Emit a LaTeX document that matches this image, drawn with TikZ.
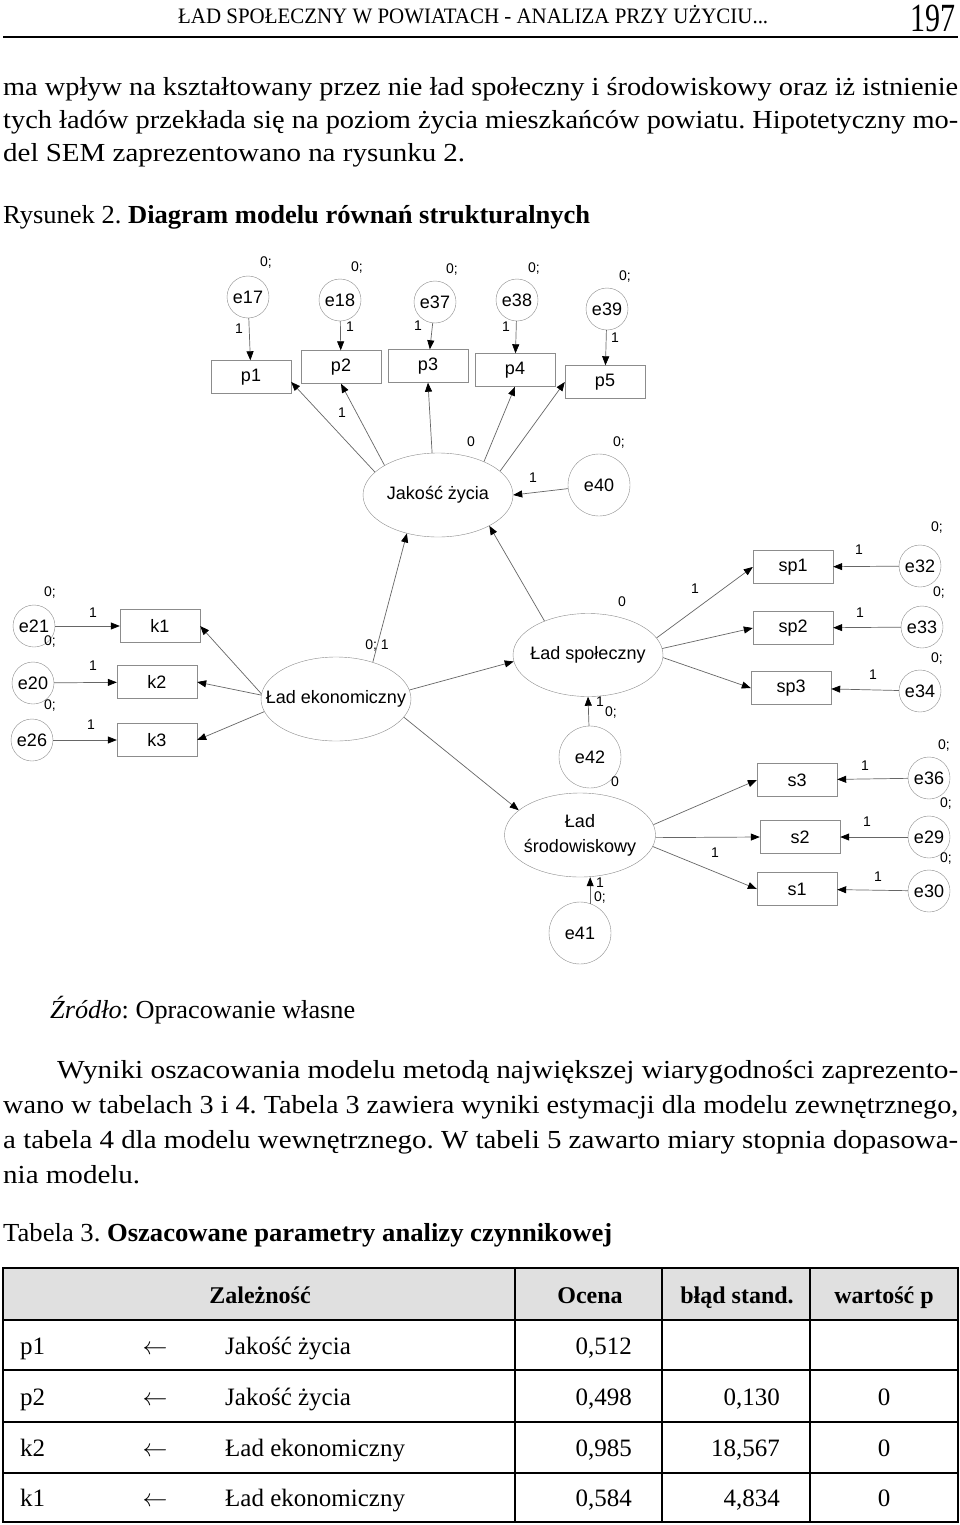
\documentclass[tikz,border=0pt]{standalone}
\usepackage{graphicx}
\usepackage{fontspec}
\setmainfont{Liberation Serif}
\newfontfamily\diagfont{Liberation Sans}
\usetikzlibrary{shapes.geometric,arrows.meta,calc}
\newcommand{\fitline}[2]{\resizebox{#1}{\height}{#2}}
\frenchspacing
\begin{document}
\begin{tikzpicture}[x=1pt,y=-1pt,
 obs/.style={draw=black!45, rectangle, minimum width=80pt, minimum height=33pt, inner sep=0pt, font=\diagfont\fontsize{18}{20}\selectfont},
 err/.style={draw=black!45, circle, minimum size=42pt, inner sep=0pt, font=\diagfont\fontsize{18}{20}\selectfont},
 bigerr/.style={err, minimum size=62pt},
 lat/.style={draw=black!45, ellipse, minimum width=150pt, minimum height=84pt, inner sep=0pt},
 lattext/.style={inner sep=0pt, align=center, font=\diagfont\fontsize{18}{25}\selectfont},
 lab/.style={font=\diagfont\fontsize{14}{16}\selectfont, inner sep=0pt},
 arr/.style={draw=black!60, line width=0.7pt, -{Triangle[length=9pt,width=7pt,color=black]}},
 body/.style={anchor=base west, inner sep=0pt, font=\fontsize{26}{30}\selectfont},
 tab/.style={inner sep=0pt, font=\fontsize{25}{28}\selectfont},
 tabh/.style={inner sep=0pt, anchor=base, font=\bfseries\fontsize{24}{28}\selectfont},
]
\useasboundingbox (0,0) rectangle (960,1525);
\fill[white] (0,0) rectangle (960,1525);

% ---------- page header and text ----------
\node[anchor=base west, inner sep=0pt, font=\fontsize{22}{24}\selectfont] (hdr) at (178,24) {\fitline{590pt}{ŁAD SPOŁECZNY W POWIATACH - ANALIZA PRZY UŻYCIU...}};
\node[anchor=base west, inner sep=0pt, font=\fontsize{40}{44}\selectfont] (pg) at (910,32) {\fitline{45pt}{197}};
\draw[line width=2pt] (3,37) -- (958,37);

\node[body] (t1) at (3,96) {\fitline{955pt}{ma wpływ na kształtowany przez nie ład społeczny i środowiskowy oraz iż istnienie}};
\node[body] (t2) at (3,129) {\fitline{955pt}{tych ładów przekłada się na poziom życia mieszkańców powiatu. Hipotetyczny mo-}};
\node[body] (t3) at (3,162) {\fitline{462pt}{del SEM zaprezentowano na rysunku 2.}};
\node[body] (t4) at (3,223) {\fitline{587pt}{Rysunek 2. \textbf{Diagram modelu równań strukturalnych}}};

\node[body] (t5) at (50,1018) {\fitline{305pt}{\textit{Źródło}: Opracowanie własne}};
\node[body] (t6) at (57,1078) {\fitline{901pt}{Wyniki oszacowania modelu metodą największej wiarygodności zaprezento-}};
\node[body] (t7) at (3,1113) {\fitline{955pt}{wano w tabelach 3 i 4. Tabela 3 zawiera wyniki estymacji dla modelu zewnętrznego,}};
\node[body] (t8) at (3,1148) {\fitline{955pt}{a tabela 4 dla modelu wewnętrznego. W tabeli 5 zawarto miary stopnia dopasowa-}};
\node[body] (t9) at (3,1183) {\fitline{137pt}{nia modelu.}};
\node[body] (t10) at (3,1241) {\fitline{609pt}{Tabela 3. \textbf{Oszacowane parametry analizy czynnikowej}}};

% ---------- diagram nodes ----------
\node[err] (e17) at (248,297) {e17};
\node[err] (e18) at (340,300) {e18};
\node[err] (e37) at (435,302) {e37};
\node[err] (e38) at (517,300) {e38};
\node[err] (e39) at (607,309) {e39};

\node[obs] (p1) at (251,377) {p1};
\node[obs] (p2) at (341,367) {p2};
\node[obs] (p3) at (428,366) {p3};
\node[obs] (p4) at (515,370) {p4};
\node[obs] (p5) at (605,382) {p5};

\node[lat] (jz) at (438,495) {};
\node[lattext] (jzt) at (jz) {Jakość życia};
\node[bigerr] (e40) at (599,485) {e40};

\node[err] (e21) at (34,626) {e21};
\node[err] (e20) at (33,683) {e20};
\node[err] (e26) at (32,740) {e26};
\node[obs] (k1) at (160,626) {k1};
\node[obs] (k2) at (157,682) {k2};
\node[obs] (k3) at (157,740) {k3};

\node[lat] (ek) at (336,699) {};
\node[lattext] (ekt) at (ek) {Ład ekonomiczny};

\node[lat, minimum height=83pt] (sp) at (588,655) {};
\node[lattext] (spt) at (sp) {Ład społeczny};
\node[bigerr] (e42) at (590,757) {e42};

\node[lat, minimum width=151pt] (sr) at (580,835) {};
\node[lattext] (srt) at (sr) {Ład\\środowiskowy};
\node[bigerr] (e41) at (580,933) {e41};

\node[obs] (sp1) at (793,567) {sp1};
\node[obs] (sp2) at (793,628) {sp2};
\node[obs] (sp3) at (791,688) {sp3};
\node[err] (e32) at (920,566) {e32};
\node[err] (e33) at (922,627) {e33};
\node[err] (e34) at (920,691) {e34};

\node[obs] (s3) at (797,780) {s3};
\node[obs] (s2) at (800,837) {s2};
\node[obs] (s1) at (797,889) {s1};
\node[err] (e36) at (929,778) {e36};
\node[err] (e29) at (929,837) {e29};
\node[err] (e30) at (929,891) {e30};

% ---------- connectors ----------
\draw[arr] (e17) -- (p1);
\draw[arr] (e18) -- (p2);
\draw[arr] (e37) -- (p3);
\draw[arr] (e38) -- (p4);
\draw[arr] (e39) -- (p5);

\draw[arr] (jz.160) -- (p1.-7);
\draw[arr] (jz.151) -- (p2.south);
\draw[arr] (jz.98) -- (p3.south);
\draw[arr] (jz.36) -- (p4.south);
\draw[arr] (jz.21) -- (p5.west);
\draw[arr] (e40) -- (jz.east);

\draw[arr] (e21) -- (k1);
\draw[arr] (e20) -- (k2);
\draw[arr] (e26) -- (k3);
\draw[arr] (ek.176) -- (k1.east);
\draw[arr] (ek.177) -- (k2.east);
\draw[arr] (ek.190) -- (k3.east);

\draw[arr] (ek.45) -- (jz.231);
\draw[arr] (sp.142) -- (jz.-31);
\draw[arr] (ek.7) -- (sp.185);
\draw[arr] (ek.-15) -- (sr.158);
\draw[arr] (e42) -- (sp.south);
\draw[arr] (e41.71) -- (e41.71 |- sr.south);

\draw[arr] (sp.14) -- (sp1.west);
\draw[arr] (sp.5) -- (sp2.west);
\draw[arr] (sp.-2) -- (sp3.west);
\draw[arr] (e32) -- (sp1);
\draw[arr] (e33) -- (sp2);
\draw[arr] (e34) -- (sp3);

\draw[arr] (sr.8) -- (s3.west);
\draw[arr] (sr.-2) -- (s2.west);
\draw[arr] (sr.-9) -- (s1.west);
\draw[arr] (e36) -- (s3);
\draw[arr] (e29) -- (s2);
\draw[arr] (e30) -- (s1);

% ---------- labels ----------
\node[lab] (l1) at (266,263) {0;};
\node[lab] (l2) at (357,268) {0;};
\node[lab] (l3) at (452,270) {0;};
\node[lab] (l4) at (534,269) {0;};
\node[lab] (l5) at (625,277) {0;};
\node[lab] (l6) at (239,329) {1};
\node[lab] (l7) at (350,327) {1};
\node[lab] (l8) at (418,326) {1};
\node[lab] (l9) at (506,327) {1};
\node[lab] (l10) at (615,338) {1};
\node[lab] (l11) at (342,413) {1};
\node[lab] (l12) at (471,442) {0};
\node[lab] (l13) at (619,443) {0;};
\node[lab] (l14) at (533,478) {1};

\node[lab] (l15) at (50,593) {0;};
\node[lab] (l16) at (50,642) {0;};
\node[lab] (l17) at (50,705) {0;};
\node[lab] (l18) at (93,613) {1};
\node[lab] (l19) at (93,666) {1};
\node[lab] (l20) at (91,725) {1};
\node[lab] (l21) at (377,646) {0; 1};

\node[lab] (l22) at (622,602) {0};
\node[lab] (l23) at (695,589) {1};
\node[lab] (l24) at (600,702) {1};
\node[lab] (l25) at (611,713) {0;};
\node[lab] (l26) at (615,782) {0};
\node[lab] (l27) at (600,883) {1};
\node[lab] (l28) at (600,897) {0;};
\node[lab] (l29) at (715,853) {1};

\node[lab] (l30) at (937,528) {0;};
\node[lab] (l31) at (939,593) {0;};
\node[lab] (l32) at (937,659) {0;};
\node[lab] (l33) at (944,745) {0;};
\node[lab] (l34) at (946,803) {0;};
\node[lab] (l35) at (946,858) {0;};
\node[lab] (l36) at (859,550) {1};
\node[lab] (l37) at (860,613) {1};
\node[lab] (l38) at (873,675) {1};
\node[lab] (l39) at (865,766) {1};
\node[lab] (l40) at (867,822) {1};
\node[lab] (l41) at (878,877) {1};

% ---------- table ----------
\fill[black!12] (3,1268) rectangle (958,1320);
\draw[line width=1.6pt] (3,1268) rectangle (958,1522);
\foreach \yy in {1320,1370,1422,1473} \draw[line width=1.6pt] (3,\yy) -- (958,\yy);
\foreach \xx in {515,662,810} \draw[line width=1.6pt] (\xx,1268) -- (\xx,1522);

\node[tabh] (h1) at (260,1303) {Zależność};
\node[tabh] (h2) at (590,1303) {Ocena};
\node[tabh] (h3) at (737,1303) {błąd stand.};
\node[tabh] (h4) at (884,1303) {wartość p};

\node[tab, anchor=base west] (r1a) at (20,1354) {p1};
\node[tab, anchor=base] (r1b) at (155,1354) {$\leftarrow$};
\node[tab, anchor=base west] (r1c) at (225,1354) {Jakość życia};
\node[tab, anchor=base east] (r1d) at (632,1354) {0,512};

\node[tab, anchor=base west] (r2a) at (20,1405) {p2};
\node[tab, anchor=base] (r2b) at (155,1405) {$\leftarrow$};
\node[tab, anchor=base west] (r2c) at (225,1405) {Jakość życia};
\node[tab, anchor=base east] (r2d) at (632,1405) {0,498};
\node[tab, anchor=base east] (r2e) at (780,1405) {0,130};
\node[tab, anchor=base] (r2f) at (884,1405) {0};

\node[tab, anchor=base west] (r3a) at (20,1456) {k2};
\node[tab, anchor=base] (r3b) at (155,1456) {$\leftarrow$};
\node[tab, anchor=base west] (r3c) at (225,1456) {Ład ekonomiczny};
\node[tab, anchor=base east] (r3d) at (632,1456) {0,985};
\node[tab, anchor=base east] (r3e) at (780,1456) {18,567};
\node[tab, anchor=base] (r3f) at (884,1456) {0};

\node[tab, anchor=base west] (r4a) at (20,1506) {k1};
\node[tab, anchor=base] (r4b) at (155,1506) {$\leftarrow$};
\node[tab, anchor=base west] (r4c) at (225,1506) {Ład ekonomiczny};
\node[tab, anchor=base east] (r4d) at (632,1506) {0,584};
\node[tab, anchor=base east] (r4e) at (780,1506) {4,834};
\node[tab, anchor=base] (r4f) at (884,1506) {0};
\end{tikzpicture}
\end{document}
